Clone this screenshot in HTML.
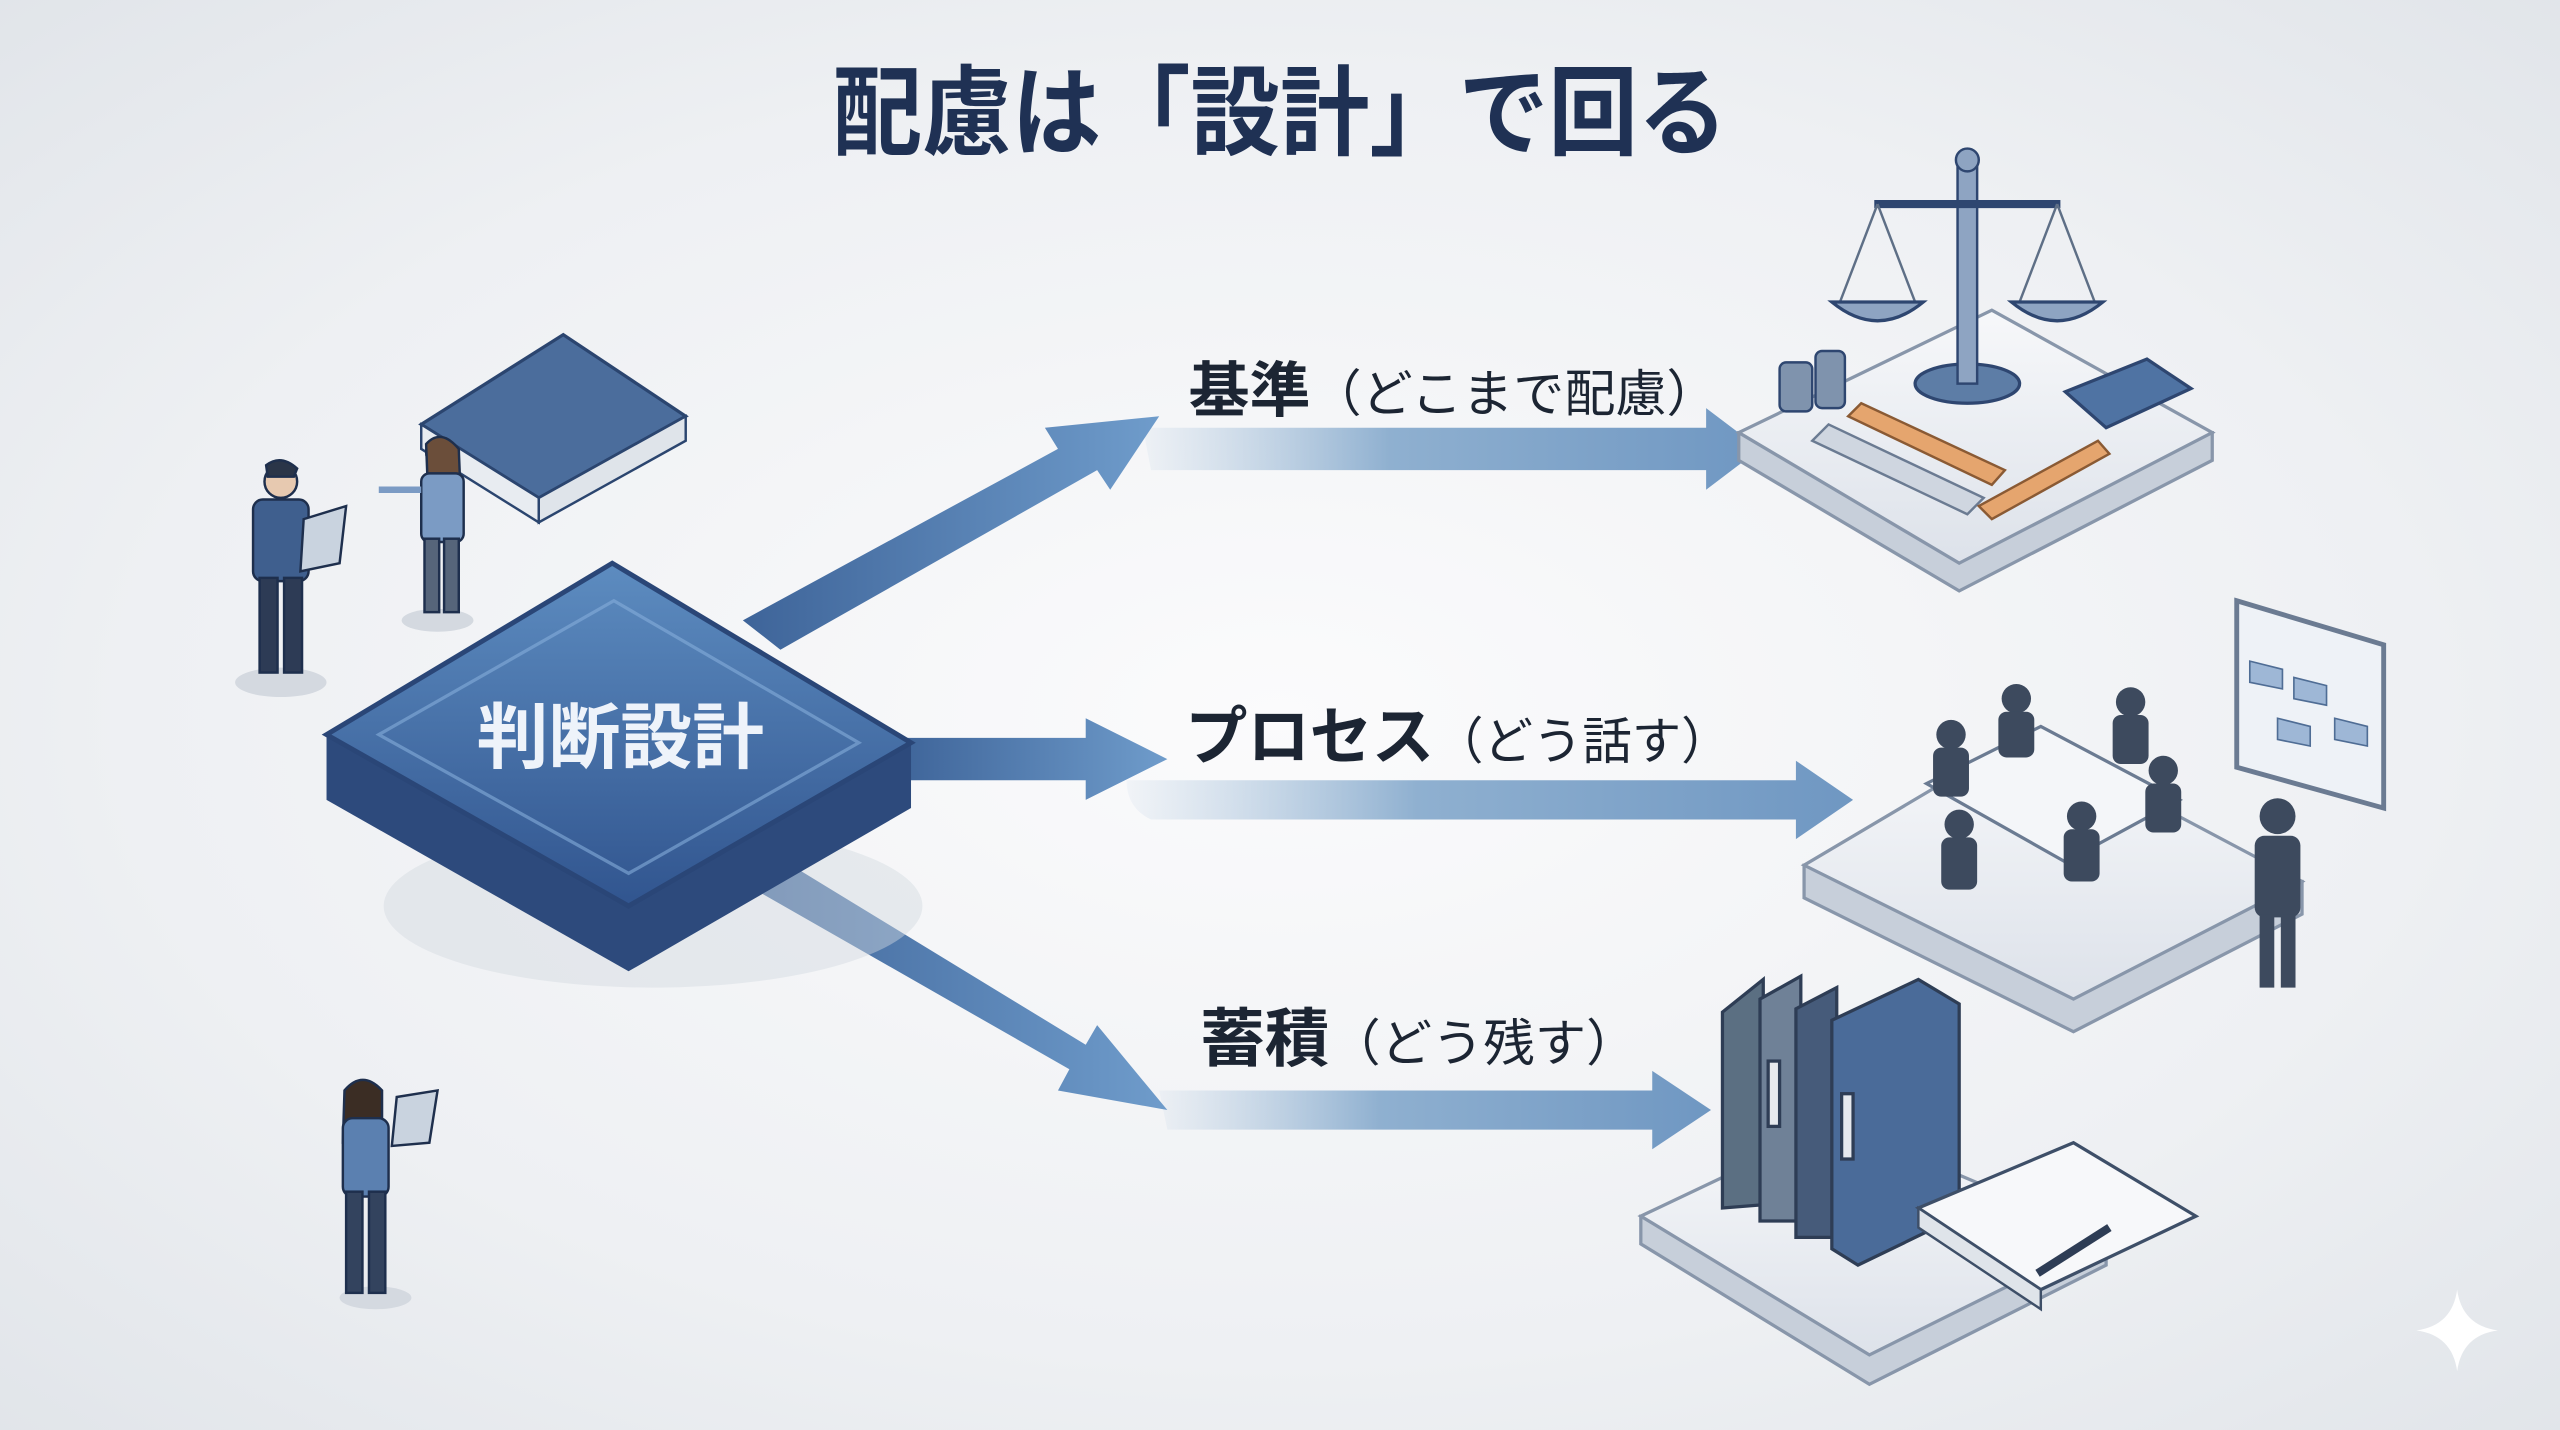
<!DOCTYPE html>
<html><head><meta charset="utf-8"><style>
html,body{margin:0;padding:0;width:2560px;height:1430px;overflow:hidden;background:#eceef1}
svg{display:block}
text{font-family:"Liberation Sans","Noto Sans CJK JP",sans-serif}
</style></head><body>
<svg width="2560" height="1430" viewBox="0 0 1568 876" preserveAspectRatio="none" xmlns="http://www.w3.org/2000/svg">
<defs>
<radialGradient id="bg" cx="0.5" cy="0.5" r="0.75">
<stop offset="0" stop-color="#fbfbfc"/><stop offset="0.6" stop-color="#eef0f3"/><stop offset="1" stop-color="#dfe3e8"/>
</radialGradient>
<linearGradient id="top" x1="0" y1="0" x2="0" y2="1">
<stop offset="0" stop-color="#5d8cc0"/><stop offset="1" stop-color="#31558f"/>
</linearGradient>
<linearGradient id="band" x1="0" y1="0" x2="1" y2="0">
<stop offset="0" stop-color="#a9c3dc" stop-opacity="0.1"/><stop offset="0.4" stop-color="#8fb0d0"/><stop offset="1" stop-color="#6f97c2"/>
</linearGradient>
<linearGradient id="diag" x1="0" y1="0" x2="1" y2="0">
<stop offset="0" stop-color="#3e6499"/><stop offset="1" stop-color="#6f9ccb"/>
</linearGradient>
<linearGradient id="plat" x1="0" y1="0" x2="0" y2="1">
<stop offset="0" stop-color="#f7f8fa"/><stop offset="1" stop-color="#dde2ea"/>
</linearGradient>
</defs>
<rect width="1568" height="876" fill="url(#bg)"/>

<text x="510" y="90" textLength="548" lengthAdjust="spacingAndGlyphs" font-size="60" font-weight="bold" fill="#1f3154">配慮は「設計」で回る</text>

<!-- bands -->
<path d="M700 262 L1045 262 L1045 250 L1078 275 L1045 300 L1045 288 L705 288 Z" fill="url(#band)"/>
<path d="M690 478 L1100 478 L1100 466 L1135 490 L1100 514 L1100 502 L705 502 Q690 495 690 478Z" fill="url(#band)"/>
<path d="M710 668 L1012 668 L1012 656 L1048 680 L1012 704 L1012 692 L715 692 Z" fill="url(#band)"/>

<!-- diagonal arrows -->
<path d="M455 380 L648 275 L640 262 L710 255 L680 300 L672 288 L478 398 Z" fill="url(#diag)"/>
<path d="M550 452 L665 452 L665 440 L715 465 L665 490 L665 478 L550 478 Z" fill="url(#diag)"/>
<path d="M445 535 L465 518 L665 640 L672 628 L715 680 L648 668 L655 655 Z" fill="url(#diag)"/>

<!-- central platform -->
<ellipse cx="400" cy="555" rx="165" ry="50" fill="#d3d9e1" opacity="0.45"/>
<path d="M200 450 L200 490 L385 595 L558 495 L558 455 Z" fill="#2d4a7c"/>
<path d="M200 450 L375 345 L558 455 L385 555 Z" fill="url(#top)" stroke="#2a4677" stroke-width="3"/>
<path d="M232 450 L376 368 L526 455 L385 535 Z" fill="none" stroke="#86aedb" stroke-width="2" opacity="0.6"/>
<text x="380" y="467" text-anchor="middle" font-size="44" font-weight="bold" fill="#eef3fa">判断設計</text>

<!-- labels -->
<text x="728" y="252" textLength="324" lengthAdjust="spacingAndGlyphs" font-size="37" font-weight="bold" fill="#1c2533">基準<tspan font-size="31" font-weight="normal">（どこまで配慮）</tspan></text>
<text x="726" y="465" textLength="334" lengthAdjust="spacingAndGlyphs" font-size="39" font-weight="bold" fill="#1c2533">プロセス<tspan font-size="31" font-weight="normal">（どう話す）</tspan></text>
<text x="735" y="650" textLength="268" lengthAdjust="spacingAndGlyphs" font-size="39" font-weight="bold" fill="#1c2533">蓄積<tspan font-size="31" font-weight="normal">（どう残す）</tspan></text>

<!-- book top-left -->
<path d="M258 260 L345 205 L420 255 L330 305 Z" fill="#4b6d9c" stroke="#2b456f" stroke-width="2"/>
<path d="M258 260 L258 275 L330 320 L330 305 Z" fill="#e8ecf1" stroke="#2b456f" stroke-width="1.5"/>
<path d="M330 305 L330 320 L420 270 L420 255 Z" fill="#dfe4ea" stroke="#2b456f" stroke-width="1.5"/>

<!-- people left -->
<g fill="#3f5f8e" stroke="#1e2f4d" stroke-width="1.5">
<ellipse cx="172" cy="418" rx="28" ry="9" fill="#d4d9e0" stroke="none"/>
<circle cx="172" cy="295" r="10" fill="#e7c9b0"/>
<path d="M163 285 Q172 278 182 287 L180 292 L164 292Z" fill="#2a3548"/>
<rect x="155" y="306" width="34" height="50" rx="6"/>
<rect x="159" y="354" width="11" height="58" fill="#2d3b55"/><rect x="174" y="354" width="11" height="58" fill="#2d3b55"/>
<path d="M186 318 L212 310 L208 345 L184 350Z" fill="#c9d3df"/>
<ellipse cx="268" cy="380" rx="22" ry="7" fill="#d4d9e0" stroke="none"/>
<circle cx="270" cy="277" r="9" fill="#e7c9b0"/>
<path d="M261 272 Q270 262 281 275 L282 300 L262 298Z" fill="#6b4e3a"/>
<rect x="258" y="290" width="26" height="42" rx="5" fill="#7b9bc4"/>
<rect x="260" y="330" width="9" height="45" fill="#56657a"/><rect x="272" y="330" width="9" height="45" fill="#56657a"/>
<path d="M258 300 L232 300" stroke-width="4" stroke="#7b9bc4"/>
<ellipse cx="230" cy="795" rx="22" ry="7" fill="#d4d9e0" stroke="none"/>
<circle cx="222" cy="672" r="10" fill="#e7c9b0"/>
<path d="M211 668 Q222 655 234 668 L234 700 L210 700Z" fill="#3b2d24"/>
<rect x="210" y="685" width="28" height="48" rx="6" fill="#5b80b0"/>
<rect x="212" y="730" width="10" height="62" fill="#33435e"/><rect x="226" y="730" width="10" height="62" fill="#33435e"/>
<path d="M243 672 L268 668 L263 700 L240 702Z" fill="#c9d3df"/>
</g>

<!-- platform 1: justice -->
<path d="M1065 265 L1065 282 L1200 362 L1355 282 L1355 265 Z" fill="#c7cfda" stroke="#8896aa" stroke-width="2"/>
<path d="M1065 265 L1220 190 L1355 265 L1200 345 Z" fill="url(#plat)" stroke="#8896aa" stroke-width="2"/>
<ellipse cx="1205" cy="235" rx="32" ry="12" fill="#5d7da6" stroke="#2e4670" stroke-width="2"/>
<rect x="1199" y="100" width="12" height="135" fill="#8ea4c2" stroke="#2e4670" stroke-width="1.5"/>
<circle cx="1205" cy="98" r="7" fill="#8ea4c2" stroke="#2e4670" stroke-width="1.5"/>
<path d="M1148 125 L1262 125" stroke="#2e4670" stroke-width="5"/>
<path d="M1150 125 L1127 185 M1150 125 L1173 185 M1260 125 L1237 185 M1260 125 L1283 185" stroke="#5e6f86" stroke-width="1.5"/>
<path d="M1122 185 Q1150 208 1178 185Z M1232 185 Q1260 208 1288 185Z" fill="#8ea4c2" stroke="#2e4670" stroke-width="2"/>
<path d="M1110 270 L1205 315 L1215 305 L1120 260Z" fill="#cfd6e0" stroke="#6b7b92" stroke-width="1.5"/>
<path d="M1132 255 L1220 297 L1228 288 L1140 247Z" fill="#e5a56e" stroke="#8a5a34" stroke-width="1.5"/>
<path d="M1212 310 L1285 270 L1292 278 L1220 318Z" fill="#e5a56e" stroke="#8a5a34" stroke-width="1.5"/>
<path d="M1265 240 L1315 220 L1342 238 L1290 262Z" fill="#4f73a3" stroke="#2e4670" stroke-width="2"/>
<rect x="1090" y="222" width="20" height="30" rx="4" fill="#7f93ad" stroke="#2e4670" stroke-width="1.5"/>
<rect x="1112" y="215" width="18" height="35" rx="4" fill="#7f93ad" stroke="#2e4670" stroke-width="1.5"/>

<!-- platform 2: meeting -->
<path d="M1105 530 L1105 550 L1270 632 L1410 560 L1410 540 Z" fill="#c7cfda" stroke="#8896aa" stroke-width="2"/>
<path d="M1105 530 L1240 450 L1410 540 L1270 612 Z" fill="url(#plat)" stroke="#8896aa" stroke-width="2"/>
<path d="M1180 480 L1250 445 L1335 490 L1265 528Z" fill="#f4f6f9" stroke="#6b7b92" stroke-width="2"/>
<g fill="#3d4a5e">
<circle cx="1195" cy="450" r="9"/><rect x="1184" y="458" width="22" height="30" rx="5"/>
<circle cx="1235" cy="428" r="9"/><rect x="1224" y="436" width="22" height="28" rx="5"/>
<circle cx="1305" cy="430" r="9"/><rect x="1294" y="438" width="22" height="30" rx="5"/>
<circle cx="1325" cy="472" r="9"/><rect x="1314" y="480" width="22" height="30" rx="5"/>
<circle cx="1200" cy="505" r="9"/><rect x="1189" y="513" width="22" height="32" rx="5"/>
<circle cx="1275" cy="500" r="9"/><rect x="1264" y="508" width="22" height="32" rx="5"/>
<circle cx="1395" cy="500" r="11"/><rect x="1381" y="512" width="28" height="50" rx="6"/>
<rect x="1384" y="560" width="9" height="45"/><rect x="1397" y="560" width="9" height="45"/>
</g>
<path d="M1370 368 L1460 395 L1460 495 L1370 470 Z" fill="#eef2f7" stroke="#6b7b92" stroke-width="3"/>
<path d="M1378 405 L1398 410 L1398 422 L1378 418Z M1405 415 L1425 420 L1425 432 L1405 428Z M1430 440 L1450 445 L1450 457 L1430 453Z M1395 440 L1415 445 L1415 457 L1395 453Z" fill="#9eb7d6" stroke="#4f6d95" stroke-width="1"/>

<!-- platform 3: archive -->
<path d="M1005 745 L1005 762 L1145 848 L1290 775 L1290 758 Z" fill="#c7cfda" stroke="#8896aa" stroke-width="2"/>
<path d="M1005 745 L1125 688 L1290 758 L1145 830 Z" fill="url(#plat)" stroke="#8896aa" stroke-width="2"/>
<g stroke="#2e3d55" stroke-width="2">
<path d="M1055 620 L1080 600 L1080 738 L1055 740Z" fill="#5b6f82"/>
<path d="M1078 612 L1103 598 L1103 748 L1078 748Z" fill="#6f8197"/>
<path d="M1100 618 L1125 605 L1125 758 L1100 758Z" fill="#465b7a"/>
<path d="M1122 625 L1175 600 L1200 615 L1200 745 L1138 775 L1122 765Z" fill="#4a6b99"/>
<rect x="1083" y="650" width="7" height="40" fill="#e6e9ee"/>
<rect x="1128" y="670" width="7" height="40" fill="#e6e9ee"/>
</g>
<path d="M1175 740 L1270 700 L1345 745 L1250 790Z" fill="#f7f8fa" stroke="#3e4f68" stroke-width="2"/>
<path d="M1175 740 L1175 752 L1250 802 L1250 790Z" fill="#dfe4ea" stroke="#3e4f68" stroke-width="1.5"/>
<path d="M1248 780 L1292 752" stroke="#2e3d55" stroke-width="5"/>

<!-- sparkle -->
<path d="M1505 790 Q1508 812 1530 815 Q1508 818 1505 840 Q1502 818 1480 815 Q1502 812 1505 790Z" fill="#ffffff"/>
</svg>
</body></html>
